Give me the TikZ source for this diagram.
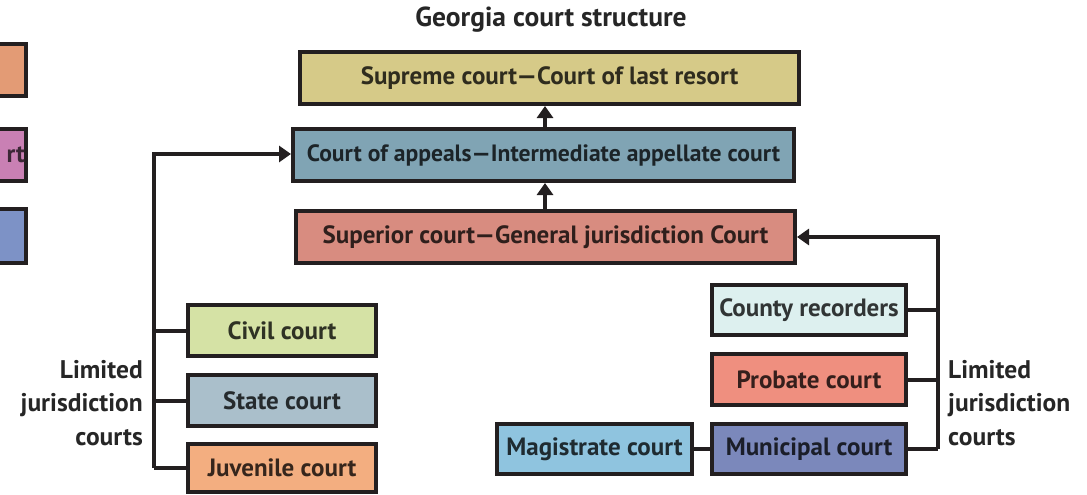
\documentclass[tikz,border=0pt]{standalone}
\usepackage{fontspec}
\setmainfont{PT Sans}
\usetikzlibrary{arrows.meta}
\definecolor{edge}{HTML}{231F20}
\definecolor{cSup}{HTML}{D6CA88}
\definecolor{cApp}{HTML}{80A4B4}
\definecolor{cSpr}{HTML}{D88C80}
\definecolor{cCiv}{HTML}{D5E2A5}
\definecolor{cSta}{HTML}{AABFCB}
\definecolor{cJuv}{HTML}{F3AE80}
\definecolor{cCou}{HTML}{DDF0EF}
\definecolor{cPro}{HTML}{EF8F7F}
\definecolor{cMag}{HTML}{8FC4DF}
\definecolor{cMun}{HTML}{7B88BB}
\definecolor{cL1}{HTML}{E39B75}
\definecolor{cL2}{HTML}{C980B4}
\definecolor{cL3}{HTML}{7D92C6}
\definecolor{txt}{HTML}{262626}
\tikzset{
  box/.style={draw=edge, line width=4pt, rectangle, inner sep=0pt, minimum height=52pt, font=\fontsize{25}{28}\bfseries, text=txt},
  tint/.style={fill=#1, text=#1!22!black},
  conn/.style={draw=edge, line width=4pt},
  arr/.style={conn, -{Triangle[length=12pt,width=16pt]}},
  lbl/.style={font=\fontsize{25.5}{33.5}\bfseries, text=txt, inner sep=0pt}
}
\begin{document}
\begin{tikzpicture}[x=1pt,y=-1pt]
\useasboundingbox (0,0) rectangle (1087,495);
\begin{scope}
\clip (0,0) rectangle (1087,495);
% partial legend boxes at left edge
\path[fill=cL1, draw=edge, line width=4pt] (-40,44) rectangle (26,96);
\path[fill=cL2, draw=edge, line width=4pt] (-40,129) rectangle (26,181);
\path[fill=cL3, draw=edge, line width=4pt] (-40,209) rectangle (26,263);
\node[anchor=east, font=\fontsize{25}{28}\bfseries, text=cL2!30!black, inner sep=0pt] (rt) at (25,155) {rt};
\end{scope}

\node[font=\fontsize{27.5}{30}\bfseries, text=txt, inner sep=0pt] (title) at (551,20) {Georgia court structure};

\node[box, tint=cSup, minimum width=499pt] (sup) at (549.5,78) {Supreme court---Court of last resort};
\node[box, tint=cApp, minimum width=501pt, font=\fontsize{23.6}{28}\bfseries] (app) at (543.5,155) {Court of appeals---Intermediate appellate court};
\node[box, tint=cSpr, minimum width=499pt] (spr) at (545.5,237) {Superior court---General jurisdiction Court};

\node[box, tint=cCiv, minimum width=188pt, minimum height=51pt] (civ) at (282,330.5) {Civil court};
\node[box, tint=cSta, minimum width=188pt, minimum height=51pt] (sta) at (282,400.5) {State court};
\node[box, tint=cJuv, minimum width=188pt, minimum height=48pt] (juv) at (282,468) {Juvenile court};

\node[box, tint=cCou, minimum width=194pt, minimum height=50pt] (cou) at (809,310) {County recorders};
\node[box, tint=cPro, minimum width=194pt, minimum height=51pt] (pro) at (809,379.5) {Probate court};
\node[box, tint=cMun, minimum width=194pt, minimum height=50pt] (mun) at (809,449) {Municipal court};
\node[box, tint=cMag, minimum width=195pt, minimum height=50pt] (mag) at (594.5,449) {Magistrate court};

% vertical arrows
\draw[arr] (app.north -| 545,0) -- (sup.south -| 545,0);
\draw[arr] (spr.north -| 545,0) -- (app.south -| 545,0);

% left tree
\coordinate (lt) at (154,154);
\coordinate (lb) at (154,468);
\draw[arr] (lb) -- (lt) -- (lt -| app.west);
\draw[conn] (civ.west) -- (civ.west -| lt);
\draw[conn] (sta.west) -- (sta.west -| lt);
\draw[conn] (juv.west) -- (juv.west -| lt);

% right tree
\coordinate (rt0) at (938,237);
\coordinate (rb) at (938,449);
\draw[arr] (rb) -- (rt0) -- (spr.east);
\draw[conn] (cou.east) -- (cou.east -| rt0);
\draw[conn] (pro.east) -- (pro.east -| rt0);
\draw[conn] (mun.east) -- (rb);
\draw[conn] (mag.east) -- (mun.west);

% labels
\node[lbl, anchor=east, align=right] (ll) at (143,403) {Limited\\jurisdiction\\courts};
\node[lbl, anchor=west, align=left] (rl) at (948,403) {Limited\\jurisdiction\\courts};
\end{tikzpicture}
\end{document}
